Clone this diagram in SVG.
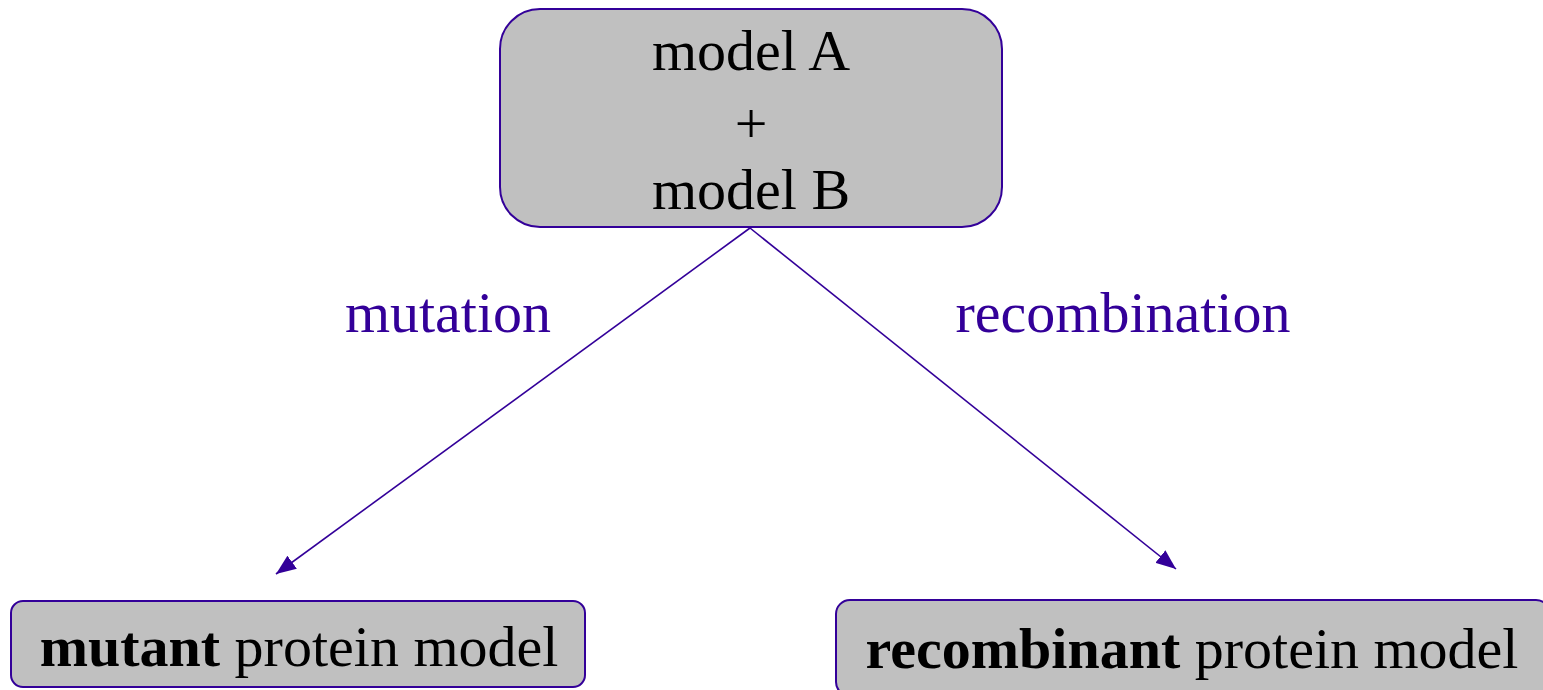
<svg xmlns="http://www.w3.org/2000/svg" width="1543" height="690" viewBox="0 0 1543 690">
  <style>
    .box { fill: #c0c0c0; stroke: #330099; stroke-width: 2; }
    .txt { font-family: "Liberation Serif", "Times New Roman", serif; font-size: 58px; fill: #000; text-anchor: middle; }
    .lbl { font-family: "Liberation Serif", "Times New Roman", serif; font-size: 58px; fill: #330099; text-anchor: middle; }
    .edge { stroke: #330099; stroke-width: 1.6; fill: none; }
  </style>
  <defs>
    <marker id="arrow" viewBox="0 0 20 16" refX="20" refY="8" markerWidth="20" markerHeight="16" markerUnits="userSpaceOnUse" orient="auto">
      <path d="M0,0 L20,8 L0,16 Z" fill="#330099"/>
    </marker>
  </defs>
  <rect width="1543" height="690" fill="#fff"/>

  <g id="connectors">
    <path class="edge" d="M750,228 L276,574" marker-end="url(#arrow)"/>
    <path class="edge" d="M750,228 L1176,569" marker-end="url(#arrow)"/>
    <text class="lbl" x="448" y="332">mutation</text>
    <text class="lbl" x="1123" y="332">recombination</text>
  </g>

  <g id="node-models">
    <rect class="box" x="500" y="9" width="502" height="218" rx="40" ry="40"/>
    <text class="txt" x="751" y="70">model A</text>
    <text class="txt" x="751" y="143">+</text>
    <text class="txt" x="751" y="209">model B</text>
  </g>

  <g id="node-mutant">
    <rect class="box" x="11" y="601" width="574" height="86" rx="12" ry="12"/>
    <text class="txt" x="299" y="666"><tspan font-weight="bold">mutant</tspan> protein model</text>
  </g>

  <g id="node-recombinant">
    <rect class="box" x="836" y="600" width="714" height="96" rx="14" ry="14"/>
    <text class="txt" x="1192" y="668"><tspan font-weight="bold">recombinant</tspan> protein model</text>
  </g>
</svg>
